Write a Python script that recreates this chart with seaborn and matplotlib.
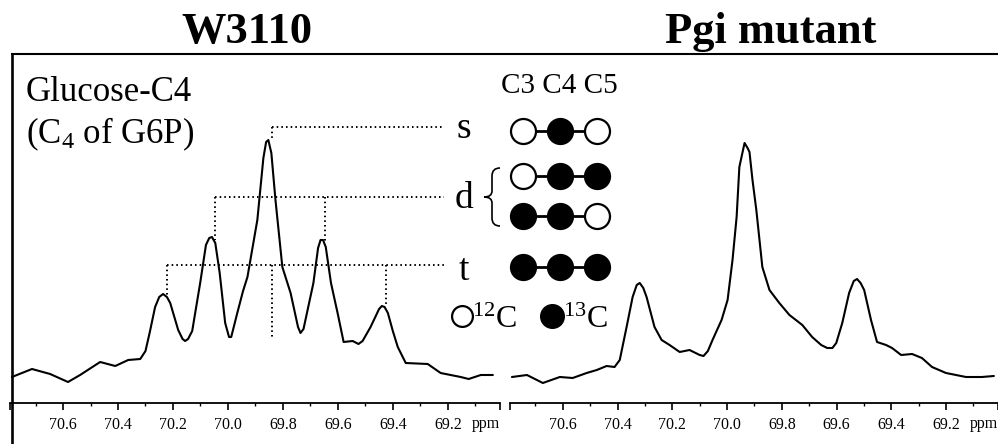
import matplotlib
matplotlib.use("Agg")
import matplotlib.pyplot as plt
import seaborn as sns
import pandas as pd
from matplotlib.path import Path
from matplotlib.patches import PathPatch

# ---------------- data ----------------
ppm_w3110 = [70.786, 70.713, 70.647, 70.582, 70.538, 70.465, 70.410, 70.363, 70.319, 70.300,
             70.285, 70.265, 70.250, 70.236, 70.222, 70.210, 70.181, 70.165, 70.156, 70.145,
             70.130, 70.101, 70.080, 70.068, 70.058, 70.046, 70.030, 70.010, 69.996, 69.988,
             69.966, 69.945, 69.929, 69.893, 69.871, 69.861, 69.853, 69.842, 69.827, 69.802,
             69.772, 69.745, 69.736, 69.725, 69.689, 69.672, 69.663, 69.654, 69.644, 69.625,
             69.601, 69.579, 69.546, 69.525, 69.510, 69.481, 69.450, 69.440, 69.430, 69.418,
             69.400, 69.382, 69.353, 69.273, 69.226, 69.153, 69.124, 69.080, 69.036]
int_w3110 = [26, 34, 29, 21, 28, 41, 37, 43, 44, 52,
             70, 96, 106, 109, 106, 100, 73, 64, 62, 64,
             72, 120, 158, 165, 166, 160, 130, 80, 66, 66,
             90, 112, 126, 183, 245, 261, 263, 250, 203, 136,
             110, 76, 70, 74, 120, 155, 163, 163, 156, 120,
             90, 61, 62, 59, 62, 76, 94, 97, 96, 90,
             72, 56, 40, 39, 30, 26, 24, 28, 28]

ppm_pgi = [70.786, 70.731, 70.673, 70.611, 70.564, 70.513, 70.476, 70.440, 70.411, 70.392,
           70.367, 70.345, 70.330, 70.319, 70.306, 70.294, 70.265, 70.239, 70.210, 70.173,
           70.137, 70.100, 70.086, 70.070, 70.053, 70.020, 69.998, 69.980, 69.965, 69.955,
           69.936, 69.925, 69.918, 69.907, 69.893, 69.871, 69.845, 69.809, 69.772, 69.725,
           69.689, 69.656, 69.634, 69.615, 69.601, 69.579, 69.554, 69.537, 69.525, 69.512,
           69.499, 69.474, 69.452, 69.419, 69.397, 69.364, 69.324, 69.288, 69.251, 69.200,
           69.127, 69.069, 69.025]
int_pgi = [26, 28, 20, 26, 25, 30, 33, 37, 36, 43,
           76, 106, 118, 120, 115, 106, 76, 63, 58, 51,
           53, 48, 47, 52, 63, 83, 103, 143, 186, 236,
           260, 255, 251, 223, 193, 136, 113, 100, 88, 78,
           66, 58, 55, 55, 60, 80, 110, 122, 124, 120,
           113, 83, 61, 58, 55, 48, 49, 45, 36, 30,
           26, 26, 27]

tick_values = [70.6, 70.4, 70.2, 70.0, 69.8, 69.6, 69.4, 69.2]
tick_labels = ["70.6", "70.4", "70.2", "70.0", "69.8", "69.6", "69.4", "69.2"]
minor_values = [70.7, 70.5, 70.3, 70.1, 69.9, 69.7, 69.5, 69.3, 69.1]
panel_titles = ["W3110", "Pgi mutant"]

# multiplet guide lines (W3110 panel): label, level, peak positions, peak tops
mult_labels = ["s", "d", "t"]
mult_levels = [276, 206, 138]
mult_peaks = [[69.838], [70.046, 69.645], [70.221, 69.838, 69.426]]
mult_tops = [[263], [163, 162], [107, 66, 97]]
guide_end = 69.215

# isotopomer patterns C3 C4 C5 (1 = 13C, 0 = 12C)
iso_patterns = [[0, 1, 0], [0, 1, 1], [1, 1, 0], [1, 1, 1]]
key_labels = [r"$\mathregular{^{12}}$C", r"$\mathregular{^{13}}$C"]

# ---------------- figure ----------------
sns.set_theme(style="white")
plt.rcParams["font.family"] = ["Liberation Serif", "DejaVu Serif"]
plt.rcParams["mathtext.fontset"] = "custom"
plt.rcParams["mathtext.rm"] = "Liberation Serif"
plt.rcParams["text.color"] = "black"
plt.rcParams["axes.labelcolor"] = "black"
plt.rcParams["xtick.color"] = "black"

W, H = 998, 444
fig = plt.figure(figsize=(W / 100, H / 100), dpi=100)
fig.patch.set_facecolor("white")

ax_bottom, ax_top = 403, 54
XL = (70.793, 69.010)
axes = []
for (x0, x1) in [(10, 500), (510, 998)]:
    ax = fig.add_axes([x0 / W, (H - ax_bottom) / H, (x1 - x0) / W, (ax_bottom - ax_top) / H])
    ax.set_facecolor("none")
    axes.append(ax)

spectra = [pd.DataFrame({"ppm": ppm_w3110, "intensity": int_w3110}),
           pd.DataFrame({"ppm": ppm_pgi, "intensity": int_pgi})]

for ax, df in zip(axes, spectra):
    sns.lineplot(data=df, x="ppm", y="intensity", ax=ax, color="black",
                 linewidth=1.5, sort=False, estimator=None,
                 solid_joinstyle="round", solid_capstyle="round")
    ax.set_xlim(*XL)
    ax.set_ylim(0, ax_bottom - ax_top)
    for s in ["top", "left", "right"]:
        ax.spines[s].set_visible(False)
    ax.spines["bottom"].set_color("black")
    ax.spines["bottom"].set_linewidth(1.3)
    ax.set_xticks([XL[0]] + tick_values + [XL[1]])
    ax.set_xticklabels([""] + tick_labels + [""])
    ax.set_xticks(minor_values, minor=True)
    ax.tick_params(axis="x", which="major", direction="out", length=5, width=1.2,
                   colors="black", labelsize=11.5, pad=5, bottom=True)
    ax.tick_params(axis="x", which="minor", direction="out", length=2.5, width=1.0,
                   colors="black", bottom=True)
    ax.set_yticks([])
    ax.set_xlabel("")
    ax.set_ylabel("")
    ax.text(1.0, -0.06, "ppm", transform=ax.transAxes, ha="right", va="center",
            fontsize=11.5, color="black")

# dotted multiplet guides on W3110 panel
ax = axes[0]
dot = dict(color="black", linewidth=1.4, linestyle=(0, (0.8, 1.6)))
for lvl, peaks, tops in zip(mult_levels, mult_peaks, mult_tops):
    ax.plot([peaks[0], guide_end], [lvl, lvl], **dot)
    for p, t in zip(peaks, tops):
        ax.plot([p, p], [lvl, t], **dot)

# overlay in pixel coordinates for annotations
ov = fig.add_axes([0, 0, 1, 1])
ov.set_xlim(0, W)
ov.set_ylim(H, 0)
ov.axis("off")
ov.patch.set_alpha(0)

# frame lines
ov.plot([12.5, 12.5], [54, H], color="black", lw=1.9, solid_capstyle="butt")
ov.plot([11, W], [54, 54], color="black", lw=1.5, solid_capstyle="butt")

# titles
ov.text(247, 43, panel_titles[0], ha="center", va="baseline", fontsize=32,
        fontweight="bold", color="black")
ov.text(771, 43, panel_titles[1], ha="center", va="baseline", fontsize=32,
        fontweight="bold", color="black")

# compound label
ov.text(26, 101, "Glucose-C4", ha="left", va="baseline", fontsize=25, color="black")
ov.text(26, 143, r"(C$\mathregular{_4}$ of G6P)", ha="left", va="baseline",
        fontsize=25, color="black")

# multiplet letters
lbl_y = [138, 208, 280]
for lab, yb in zip(mult_labels, lbl_y):
    ov.text(464, yb, lab, ha="center", va="baseline", fontsize=27, color="black")

# brace for d
bx_tip, bx_arm, by_top, by_mid, by_bot = 484, 500, 168, 197, 226
verts = [(bx_arm, by_top), (bx_tip + 8, by_top), (bx_tip + 8, by_top + 8),
         (bx_tip + 8, by_mid - 6), (bx_tip + 8, by_mid), (bx_tip, by_mid),
         (bx_tip + 8, by_mid), (bx_tip + 8, by_mid + 6),
         (bx_tip + 8, by_bot - 8), (bx_tip + 8, by_bot), (bx_arm, by_bot)]
codes = [Path.MOVETO, Path.CURVE3, Path.CURVE3,
         Path.LINETO, Path.CURVE3, Path.CURVE3,
         Path.CURVE3, Path.CURVE3,
         Path.LINETO, Path.CURVE3, Path.CURVE3]
ov.add_patch(PathPatch(Path(verts, codes), fill=False, lw=1.2, edgecolor="black"))

# C3 C4 C5 header
ov.text(501, 93, "C3 C4 C5", ha="left", va="baseline", fontsize=21, color="black")

# isotopomer rows
col_x = [523, 560, 597]
row_y = [131, 176, 216, 267]
for pat, yy in zip(iso_patterns, row_y):
    ov.plot([col_x[0], col_x[-1]], [yy, yy], color="black", lw=2.0, zorder=3)
    for cx, c in zip(col_x, pat):
        ov.plot([cx], [yy], marker="o", ms=18, mew=1.6, mec="black",
                mfc="black" if c else "white", zorder=4)

# 12C / 13C key
ov.plot([462], [316], marker="o", ms=15, mew=1.6, mec="black", mfc="white")
ov.text(472, 328, key_labels[0], ha="left", va="baseline", fontsize=23, color="black")
ov.plot([552], [316], marker="o", ms=17, mew=1.0, mec="black", mfc="black")
ov.text(563, 328, key_labels[1], ha="left", va="baseline", fontsize=23, color="black")

fig.savefig("out.png", dpi=100, facecolor="white")
